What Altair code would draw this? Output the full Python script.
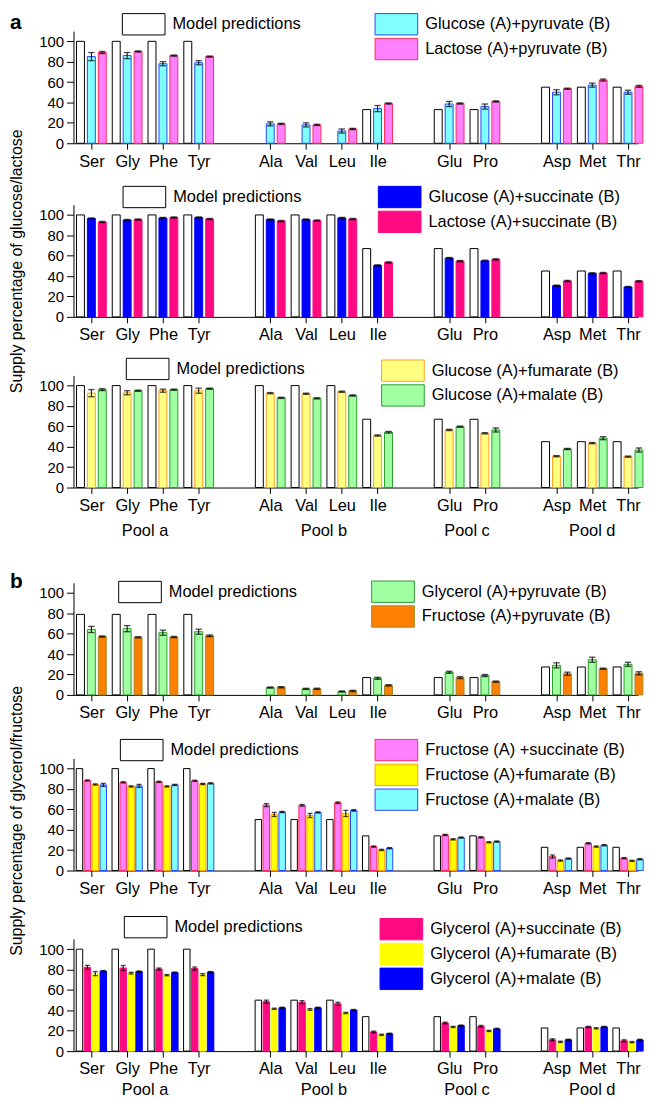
import altair as alt
import pandas as pd

FONT = "Liberation Sans"

# ---------------- data ----------------
amino = ["Ser", "Gly", "Phe", "Tyr", "Ala", "Val", "Leu", "Ile", "Glu", "Pro", "Asp", "Met", "Thr"]
slots = [0, 1, 2, 3, 5, 6, 7, 8, 10, 11, 13, 14, 15]
pool_of = ["Pool a"] * 4 + ["Pool b"] * 4 + ["Pool c"] * 2 + ["Pool d"] * 3
y_ticks = [0, 20, 40, 60, 80, 100]

# panel a1
a1_model = [100, 100, 100, 100, None, None, None, 33, 33, 33, 55, 55, 55]
a1_glc_pyr = [85, 86, 78, 79, 19, 18, 12, 34, 38.5, 36, 50, 57, 50]
a1_glc_pyr_err = [4, 3, 2, 2, 2, 2, 2, 3, 2.5, 2.5, 2.5, 2, 2]
a1_lac_pyr = [89, 90, 86, 85, 19, 18, 14, 39, 39, 41, 53.5, 62, 55.8]
a1_lac_pyr_err = [1, 0.6, 0.6, 0.6, 0.6, 0.6, 0.6, 0.6, 0.6, 0.6, 0.6, 1, 1]

# panel a2
a2_model = [100, 100, 100, 100, 100, 100, 100, 67, 67, 67, 45, 45, 45]
a2_glc_suc = [96.5, 95, 97, 97.5, 95.5, 95.5, 97, 50.5, 57.7, 55, 30.6, 42.7, 29.3]
a2_glc_suc_err = [0.6] * 13
a2_lac_suc = [93, 95.5, 97.5, 96, 94, 94.5, 96, 53.4, 54.7, 56.4, 35.2, 43, 35]
a2_lac_suc_err = [0.6] * 13

# panel a3
a3_model = [100, 100, 100, 100, 100, 100, 100, 67, 67, 67, 45, 45, 45]
a3_glc_fum = [92.6, 93, 95, 95, 92.6, 92, 94, 51, 56.5, 53.2, 30.7, 43.6, 30.3]
a3_glc_fum_err = [3.5, 2, 1.5, 2.5, 0.6, 0.6, 0.6, 0.6, 0.6, 0.6, 0.6, 0.6, 0.6]
a3_glc_mal = [96, 95, 96, 97, 88, 87.5, 90.3, 54.2, 59.7, 56.5, 37.8, 48.4, 36.8]
a3_glc_mal_err = [1, 0.6, 0.6, 0.6, 0.6, 0.6, 0.6, 0.8, 0.6, 2, 0.6, 1.5, 2]

# panel b1
b1_model = [79, 79, 79, 79, None, None, None, 17, 17, 17, 27.4, 27.4, 27.4]
b1_gly_pyr = [64.2, 65, 61, 62, 7.2, 5.9, 3.3, 16.3, 22.2, 19, 29, 34.5, 30]
b1_gly_pyr_err = [3, 3, 2.5, 2.5, 0.6, 0.6, 0.6, 1, 1, 1, 2.5, 2.5, 2]
b1_fru_pyr = [57.3, 56.5, 56.8, 58, 7.5, 6, 3.9, 9.4, 17, 13, 20.8, 25.7, 21.2]
b1_fru_pyr_err = [0.6, 0.6, 0.6, 0.8, 0.6, 0.6, 0.6, 0.6, 1, 0.6, 1.5, 0.6, 1.5]

# panel b2
b2_model = [100, 100, 100, 100, 50, 50, 50, 34, 34, 34, 22.8, 22.8, 22.8]
b2_fru_suc = [88.3, 86.5, 87, 88, 64.2, 64, 66.5, 23.5, 34.9, 32.6, 13.7, 26.7, 12.1]
b2_fru_suc_err = [0.6, 0.6, 0.6, 0.6, 1.5, 0.8, 0.8, 0.6, 0.6, 0.6, 1.5, 0.6, 0.6]
b2_fru_fum = [84.4, 82.5, 82.5, 85, 55, 54, 56, 20.2, 30.6, 27.7, 9.8, 23.5, 9.5]
b2_fru_fum_err = [0.6, 0.6, 0.6, 0.6, 2, 2, 3, 0.6, 0.6, 0.6, 0.6, 0.6, 0.6]
b2_fru_mal = [84, 83, 84, 85.5, 57.4, 57, 59, 21.9, 32.3, 28.4, 11.7, 24.8, 11.1]
b2_fru_mal_err = [1.5, 1.5, 0.6, 0.6, 0.6, 0.6, 0.8, 0.6, 0.6, 0.6, 0.6, 0.6, 0.6]

# panel b3
b3_model = [100, 100, 100, 100, 50, 50, 50, 33.8, 33.8, 33.8, 22.7, 22.7, 22.7]
b3_gly_suc = [82.2, 81.5, 80.5, 81, 48.5, 48, 46.4, 18.8, 27.6, 24.4, 11.1, 23.7, 10.1]
b3_gly_suc_err = [2, 2.5, 1, 1.5, 1.5, 1.5, 1.5, 0.8, 0.8, 0.8, 1, 0.6, 1]
b3_gly_fum = [76, 76.5, 74.5, 75, 41.5, 40.9, 37.4, 16, 23.7, 19.8, 9.1, 22.4, 8.8]
b3_gly_fum_err = [2, 0.8, 0.6, 1, 0.6, 0.8, 0.6, 0.6, 0.6, 0.6, 0.6, 0.6, 0.6]
b3_gly_mal = [78.5, 78, 77, 77.5, 42.5, 42.5, 40.3, 17, 25, 21.8, 11.1, 23.7, 11]
b3_gly_mal_err = [0.6] * 13

# ---------------- layout constants ----------------
PX_PER_SLOT = 36.05
X_DOMAIN = [-0.5, 15.28]
W = round((X_DOMAIN[1] - X_DOMAIN[0]) * PX_PER_SLOT)
H = 113
Y_DOMAIN = [0, 110]

labels16 = [""] * 16
for a, s in zip(amino, slots):
    labels16[s] = a
label_expr = "[" + ",".join("'%s'" % t for t in labels16) + "][datum.value]"

pool_names = ["Pool a", "Pool b", "Pool c", "Pool d"]
pool_centers = []
for p in pool_names:
    ss = [s for s, q in zip(slots, pool_of) if q == p]
    pool_centers.append(sum(ss) / len(ss))
pool_df = pd.DataFrame({"pool": pool_names, "center": pool_centers})

SYM = "M-2,-1H2V1H-2Z"


def legend(x, y, **kw):
    return alt.Legend(
        orient="none", legendX=x, legendY=y, title=None, direction="vertical",
        symbolType=SYM, symbolSize=462, symbolOffset=10.75, labelOffset=17.5,
        labelFont=FONT, labelFontSize=16.5, labelColor="black",
        rowPadding=alt.ExprRef(expr="-4"),
        padding=0, symbolStrokeWidth=1, labelLimit=400, **kw)


def panel(model_vals, series, model_leg, series_leg, step_px, bar_w, cap_w,
          ytitle=None, title_y=None, pool_y=None, letter=None, letter_y=0):
    n = len(series) + 1
    step = step_px / PX_PER_SLOT
    mrows = []
    for a, s, v in zip(amino, slots, model_vals):
        if v is None:
            continue
        mrows.append(dict(amino=a, series="Model predictions", value=v,
                          xpos=s + (0 - (n - 1) / 2) * step))
    mdf = pd.DataFrame(mrows)
    rows = []
    for k, (name, vals, errs, fill, stroke) in enumerate(series, start=1):
        for a, s, v, e in zip(amino, slots, vals, errs):
            rows.append(dict(amino=a, series=name, value=v, lo=v - e, hi=v + e,
                             xpos=s + (k - (n - 1) / 2) * step))
    sdf = pd.DataFrame(rows)
    names = [t[0] for t in series]
    fills = [t[3] for t in series]
    strokes = [t[4] for t in series]

    yaxis_kw = dict(values=y_ticks, tickSize=7, labelPadding=3, title=None,
                    labelOverlap=False, labelFontSize=15, labelFont=FONT)
    if ytitle:
        yaxis_kw.update(title=ytitle, titleX=-57, titleY=title_y, titleAngle=270,
                        titleBaseline="middle", titleAlign="center",
                        titleFont=FONT, titleFontSize=16, titleFontWeight="normal",
                        titleColor="black")
    xscale = alt.Scale(domain=X_DOMAIN, nice=False, zero=False, padding=0)
    yscale = alt.Scale(domain=Y_DOMAIN, nice=False, padding=0)
    xaxis = alt.Axis(values=slots, labelExpr=label_expr, tickSize=6,
                     labelPadding=4, title=None, labelOverlap=False,
                     labelFlush=False, labelFontSize=16.5, labelFont=FONT)
    yaxis = alt.Axis(**yaxis_kw)

    def X(f):
        return alt.X(f, scale=xscale, axis=xaxis)

    def Y(f):
        return alt.Y(f, scale=yscale, axis=yaxis)

    model = alt.Chart(mdf).mark_bar(width=bar_w, stroke="black", strokeWidth=1).encode(
        x=X("xpos:Q"), y=Y("value:Q"),
        color=alt.Color("series:N", scale=alt.Scale(domain=["Model predictions"], range=["white"]),
                        legend=legend(model_leg[0], model_leg[1], symbolStrokeColor="black")),
    )
    bars = alt.Chart(sdf).mark_bar(width=bar_w, strokeWidth=1).encode(
        x=X("xpos:Q"), y=Y("value:Q"),
        fill=alt.Fill("series:N", scale=alt.Scale(domain=names, range=fills),
                      legend=legend(series_leg[0], series_leg[1])),
        stroke=alt.Stroke("series:N", scale=alt.Scale(domain=names, range=strokes),
                          legend=legend(series_leg[0], series_leg[1])),
    )
    whisk = alt.Chart(sdf).mark_rule(color="black", strokeWidth=1).encode(
        x=X("xpos:Q"), y=Y("lo:Q"), y2="hi:Q")
    cap_hi = alt.Chart(sdf).mark_tick(orient="horizontal", size=cap_w, thickness=1.3,
                                      color="black").encode(x=X("xpos:Q"), y=Y("hi:Q"))
    cap_lo = alt.Chart(sdf).mark_tick(orient="horizontal", size=cap_w, thickness=1.3,
                                      color="black").encode(x=X("xpos:Q"), y=Y("lo:Q"))
    layers = [model, bars, whisk, cap_lo, cap_hi]
    if pool_y is not None:
        layers.append(alt.Chart(pool_df).mark_text(font=FONT, fontSize=16.5, color="black",
                                                   baseline="alphabetic").encode(
            x=X("center:Q"), y=alt.value(H + pool_y), text="pool:N"))
    if letter:
        layers.append(alt.Chart(pd.DataFrame({"t": [letter]})).mark_text(
            font=FONT, fontSize=21, fontWeight="bold", color="black", align="left",
            baseline="alphabetic").encode(x=alt.value(-64), y=alt.value(letter_y), text="t:N"))
    return alt.layer(*layers).properties(width=W, height=H)


def spacer(h):
    return alt.Chart(pd.DataFrame({"v": [0]})).mark_point(opacity=0).encode(
        x=alt.X("v:Q", axis=None), y=alt.Y("v:Q", axis=None)).properties(width=W, height=h)


CYAN, CYAN_S = "#80FFFF", "#2848FF"
LPINK, LPINK_S = "#FF80FF", "#FF2A5A"
BLUE = "#0000FF"
DPINK = "#FF0A80"
LYEL, LYEL_S = "#FFFF80", "#FFA028"
LGRN, LGRN_S = "#A0FFA0", "#2E9A2E"
ORNG, ORNG_S = "#FF8000", "#A08A20"
YEL, YEL_S = "#FFFF00", "#FFA000"

p_a1 = panel(a1_model,
             [("Glucose (A)+pyruvate (B)", a1_glc_pyr, a1_glc_pyr_err, CYAN, CYAN_S),
              ("Lactose (A)+pyruvate (B)", a1_lac_pyr, a1_lac_pyr_err, LPINK, LPINK_S)],
             (48.5, -18.4), (303.2, -18.4), 11, 8, 6.5, letter="a", letter_y=-2)
p_a2 = panel(a2_model,
             [("Glucose (A)+succinate (B)", a2_glc_suc, a2_glc_suc_err, BLUE, BLUE),
              ("Lactose (A)+succinate (B)", a2_lac_suc, a2_lac_suc_err, DPINK, DPINK)],
             (49.2, -19.3), (306.5, -19.3), 11, 8, 6.5,
             ytitle="Supply percentage of glucose/lactose", title_y=H / 2)
p_a3 = panel(a3_model,
             [("Glucose (A)+fumarate (B)", a3_glc_fum, a3_glc_fum_err, LYEL, LYEL_S),
              ("Glucose (A)+malate (B)", a3_glc_mal, a3_glc_mal_err, LGRN, LGRN_S)],
             (52.5, -18), (309.8, -16.3), 11, 8, 6.5, pool_y=49)
p_b1 = panel(b1_model,
             [("Glycerol (A)+pyruvate (B)", b1_gly_pyr, b1_gly_pyr_err, LGRN, LGRN_S),
              ("Fructose (A)+pyruvate (B)", b1_fru_pyr, b1_fru_pyr_err, ORNG, ORNG_S)],
             (44.8, -2.2), (299.8, -2.5), 11, 8, 6.5, letter="b", letter_y=5)
p_b2 = panel(b2_model,
             [("Fructose (A) +succinate (B)", b2_fru_suc, b2_fru_suc_err, LPINK, LPINK_S),
              ("Fructose (A)+fumarate (B)", b2_fru_fum, b2_fru_fum_err, YEL, YEL_S),
              ("Fructose (A)+malate (B)", b2_fru_mal, b2_fru_mal_err, CYAN, CYAN_S)],
             (46.5, -19.9), (303.2, -19.9), 8, 6.5, 5,
             ytitle="Supply percentage of glycerol/fructose", title_y=H / 2 + 6)
p_b3 = panel(b3_model,
             [("Glycerol (A)+succinate (B)", b3_gly_suc, b3_gly_suc_err, DPINK, DPINK),
              ("Glycerol (A)+fumarate (B)", b3_gly_fum, b3_gly_fum_err, YEL, YEL),
              ("Glycerol (A)+malate (B)", b3_gly_mal, b3_gly_mal_err, BLUE, BLUE)],
             (50.5, -23.4), (308.2, -21.4), 8, 6.5, 5, pool_y=44)

chart = alt.vconcat(
    p_a1, spacer(61.3), p_a2, spacer(59), p_a3, spacer(95.5),
    p_b1, spacer(63.7), p_b2, spacer(68.5), p_b3,
    spacing=0, bounds="flush",
).resolve_scale(color="independent", fill="independent", stroke="independent",
                x="independent", y="independent").properties(
    padding={"left": 0, "top": 0, "right": 0, "bottom": 0}, background="white"
).configure_view(stroke=None).configure_axis(
    domainColor="black", tickColor="black", labelColor="black", labelFont=FONT,
    labelFontSize=16, grid=False, domainWidth=1, tickWidth=1,
)

chart.save("out.html", embed_options={"renderer": "svg", "actions": False})
